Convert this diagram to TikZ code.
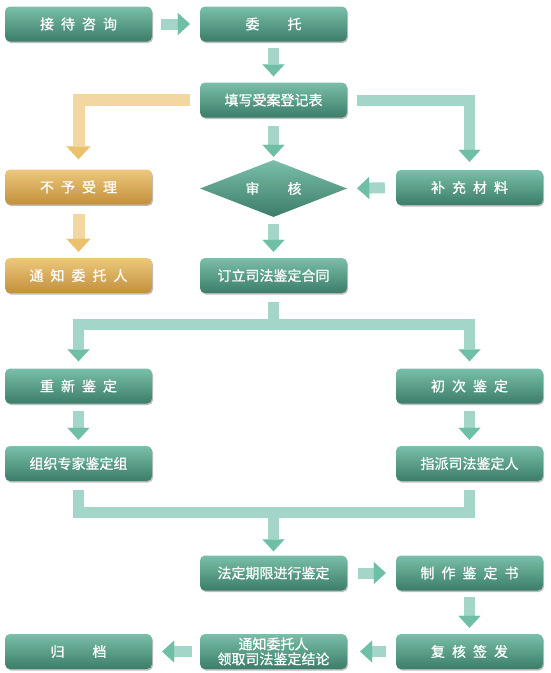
\documentclass[tikz,border=0pt]{standalone}
\usepackage{fontspec}
\newfontfamily\cjk[FakeBold=0.7]{Noto Sans CJK SC}
\usetikzlibrary{shapes.geometric,arrows.meta,shadows}
\definecolor{tealtop}{HTML}{7ABFA9}
\definecolor{tealbot}{HTML}{3B7D68}
\definecolor{orgtop}{HTML}{ECC87C}
\definecolor{orgbot}{HTML}{C3903C}
\definecolor{bandc}{HTML}{A3D6C8}
\definecolor{tipc}{HTML}{6FBFA6}
\definecolor{obandc}{HTML}{F2D8A0}
\definecolor{otipc}{HTML}{EBC16E}
\newcommand{\gp}{\hspace{7pt}}
\newcommand{\wgp}{\hspace{28pt}}
\begin{document}
\begin{tikzpicture}[x=1pt,y=-1pt,
  box/.style={rectangle, rounded corners=5pt, minimum width=147pt, minimum height=35pt,
    inner sep=0pt, top color=tealtop, bottom color=tealbot, draw=none, text=white,
    font=\cjk\fontsize{14}{16}\selectfont, align=center,
    drop shadow={shadow xshift=1pt, shadow yshift=-1.5pt, opacity=0.25, fill=black}},
  obox/.style={box, top color=orgtop, bottom color=orgbot},
  dia/.style={diamond, aspect=2.5, minimum width=147pt, minimum height=57pt, inner sep=0pt,
    top color=tealtop, bottom color=tealbot, draw=none, text=white,
    font=\cjk\fontsize{14}{16}\selectfont},
  conn/.style={line width=11pt, draw=bandc,
    -{Triangle[width=22pt,length=12pt,line width=0.01pt,fill=tipc,color=tipc]}},
  oconn/.style={line width=12pt, draw=obandc,
    -{Triangle[width=24pt,length=13pt,line width=0.01pt,fill=otipc,color=otipc]}},
  bandline/.style={line width=11pt, draw=bandc}
]
\fill[white] (0,0) rectangle (550,673);
\useasboundingbox (0,0) rectangle (550,673);

% nodes
\node[box] (jd) at (78.5,24) {接\gp 待\gp 咨\gp 询};
\node[box] (wt) at (273.5,24) {委\wgp 托};
\node[box] (tx) at (273.5,100) {填写受案登记表};
\node[dia] (sh) at (273.5,188.5) {审\wgp 核};
\node[obox] (by) at (78.5,187) {不\gp 予\gp 受\gp 理};
\node[box] (bc) at (469.5,187.5) {补\gp 充\gp 材\gp 料};
\node[obox] (tz) at (78.5,275.5) {通\gp 知\gp 委\gp 托\gp 人};
\node[box] (dl) at (273.5,275.5) {订立司法鉴定合同};
\node[box] (cx) at (78.5,386) {重\gp 新\gp 鉴\gp 定};
\node[box] (cc) at (469.5,386) {初\gp 次\gp 鉴\gp 定};
\node[box] (zz) at (78.5,463.5) {组织专家鉴定组};
\node[box] (zp) at (469.5,463.5) {指派司法鉴定人};
\node[box] (fd) at (273.5,573) {法定期限进行鉴定};
\node[box] (zs) at (469.5,573) {制\gp 作\gp 鉴\gp 定\gp 书};
\node[box] (fh) at (469.5,651.5) {复\gp 核\gp 签\gp 发};
\node[box] (tl) at (273.5,651.5) {通知委托人\\[-1pt]领取司法鉴定结论};
\node[box] (gd) at (78.5,651.5) {归\wgp 档};

\coordinate (sp) at (273.5,324);
\coordinate (mg) at (273.5,512);

% connectors
\draw[conn, shorten <=9pt, shorten >=10pt] (jd.east) -- (wt.west);
\draw[conn, shorten <=6pt, shorten >=6pt] (wt.south) -- (tx.north);
\draw[conn, shorten <=8pt, shorten >=3pt] (tx.south) -- (sh.north);
\draw[oconn, shorten <=10pt, shorten >=10pt] (tx.west) -| (by.north);
\draw[conn, shorten <=10pt, shorten >=8pt] (tx.east) -| (bc.north);
\draw[conn, shorten <=11pt, shorten >=10pt] (bc.west) -- (sh.east);
\draw[oconn, shorten <=9pt, shorten >=6pt] (by.south) -- (tz.north);
\draw[conn, shorten <=7pt, shorten >=6pt] (sh.south) -- (dl.north);

\draw[bandline, shorten <=9pt] (dl.south) -- (sp);
\draw[conn, shorten >=7pt] (sp) -| (cx.north);
\draw[conn, shorten >=7pt] (sp) -| (cc.north);
\draw[conn, shorten <=7pt, shorten >=6pt] (cx.south) -- (zz.north);
\draw[conn, shorten <=7pt, shorten >=6pt] (cc.south) -- (zp.north);

\draw[bandline, shorten <=9pt] (zz.south) |- (mg);
\draw[bandline, shorten <=9pt] (zp.south) |- (mg);
\draw[conn, shorten >=4pt] (mg) -- (fd.north);

\draw[conn, shorten <=11pt, shorten >=10pt] (fd.east) -- (zs.west);
\draw[conn, shorten <=6pt, shorten >=6pt] (zs.south) -- (fh.north);
\draw[conn, shorten <=10pt, shorten >=13pt] (fh.west) -- (tl.east);
\draw[conn, shorten <=8pt, shorten >=10pt] (tl.west) -- (gd.east);
\end{tikzpicture}
\end{document}
